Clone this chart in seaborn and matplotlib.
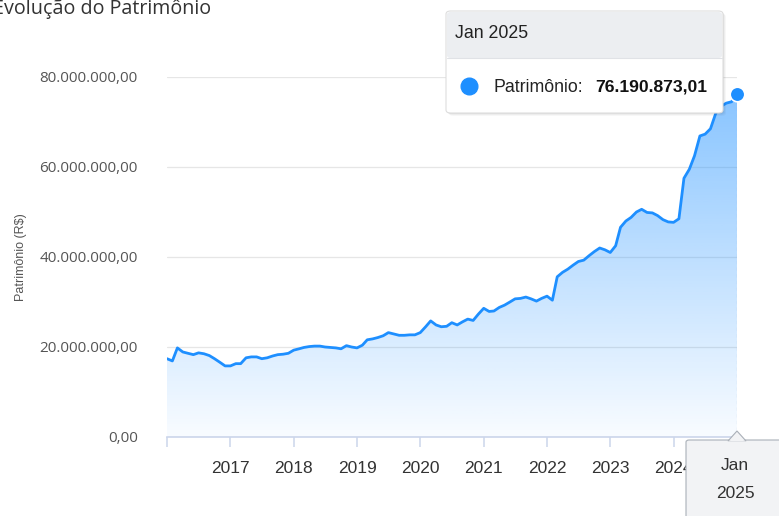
import numpy as np
import pandas as pd
import matplotlib
matplotlib.use("Agg")
import matplotlib.pyplot as plt
import matplotlib.dates as mdates
from matplotlib.patches import FancyBboxPatch, Polygon
from matplotlib.ticker import FuncFormatter
import seaborn as sns

# monthly patrimony (millions of R$), Jan 2016 .. Jan 2025
datas = pd.date_range("2016-01-01", "2025-01-01", freq="MS")
patrimonio_mi = [
    17.4, 16.9, 19.8, 18.9, 18.6, 18.3, 18.7, 18.5, 18.1, 17.4, 16.6, 15.8,
    15.8, 16.3, 16.3, 17.6, 17.8, 17.8, 17.4, 17.6, 18.0, 18.3, 18.4, 18.6,
    19.3, 19.6, 19.9, 20.1, 20.2, 20.2, 20.0, 19.9, 19.8, 19.6, 20.3, 20.0,
    19.8, 20.4, 21.6, 21.8, 22.1, 22.5, 23.2, 22.9, 22.6, 22.6, 22.7, 22.7,
    23.2, 24.5, 25.8, 24.9, 24.5, 24.6, 25.4, 24.9, 25.6, 26.2, 25.9, 27.3,
    28.6, 27.9, 28.0, 28.8, 29.3, 30.0, 30.7, 30.8, 31.1, 30.7, 30.2, 30.8,
    31.3, 30.4, 35.6, 36.6, 37.3, 38.2, 39.0, 39.3, 40.3, 41.2, 42.0, 41.6,
    41.0, 42.5, 46.6, 48.0, 48.8, 50.0, 50.6, 49.9, 49.8, 49.2, 48.3, 47.8,
    47.7, 48.5, 57.5, 59.5, 62.5, 66.9, 67.3, 68.5, 72.0, 73.5, 74.2, 74.5,
    76.190873,
]
valores = np.array(patrimonio_mi) * 1e6
anos = list(range(2017, 2025))
yticks = [0, 20e6, 40e6, 60e6, 80e6]

df = pd.DataFrame({"data": datas, "patrimonio": valores})

W, H = 779, 516
fig = plt.figure(figsize=(W / 100, H / 100), dpi=100)
sns.set_theme(style="white")
plt.rcParams["font.family"] = ["Liberation Sans", "DejaVu Sans"]


def px(x, y):
    return x / W, 1 - y / H


left, right, top, bottom = 167, 737, 77, 437
ax = fig.add_axes([left / W, 1 - bottom / H, (right - left) / W, (bottom - top) / H])

x0 = mdates.date2num(pd.Timestamp("2016-01-01"))
x1 = mdates.date2num(pd.Timestamp("2025-01-01"))
ax.set_xlim(x0, x1)
ax.set_ylim(0, 80e6)

# gradient area under the line
xs = mdates.date2num(df["data"])
poly = ax.fill_between(xs, valores, 0, color="none", lw=0)
grad = np.linspace(0.55, 0.03, 256).reshape(-1, 1)
rgba = np.zeros((256, 1, 4))
rgba[..., 0] = 30 / 255
rgba[..., 1] = 144 / 255
rgba[..., 2] = 1.0
rgba[..., 3] = grad
img = ax.imshow(rgba, extent=[x0, x1, 0, 80e6], aspect="auto", origin="upper", zorder=1)
img.set_clip_path(poly.get_paths()[0], transform=ax.transData)

sns.lineplot(data=df, x="data", y="patrimonio", ax=ax, color="#1e8fff", lw=2.0, zorder=3)

# hover marker and dashed crosshair
ax.plot([x1, x1], [0, valores[-1]], ls=(0, (3, 3)), color="#8fa8c8", lw=0.8, zorder=2)
ax.scatter([x1], [valores[-1]], s=110, color="#1e8fff", edgecolor="white", lw=1.2,
           zorder=5, clip_on=False)

ax.set_yticks(yticks)
ax.yaxis.set_major_formatter(FuncFormatter(
    lambda v, p: f"{v:,.2f}".replace(",", "X").replace(".", ",").replace("X", ".")))
ax.grid(axis="y", color="#e6e6e6", lw=0.9)
ax.set_axisbelow(True)
for s in ["top", "right", "left"]:
    ax.spines[s].set_visible(False)
ax.spines["bottom"].set_color("#ccd6eb")
ax.spines["bottom"].set_linewidth(1.2)

ax.set_xticks([x0] + [mdates.date2num(pd.Timestamp(f"{a}-01-01")) for a in anos])
ax.set_xticklabels([""] + [str(a) for a in anos])
ax.tick_params(axis="x", bottom=True, length=7, width=1.1, color="#ccd6eb",
               labelsize=12.5, labelcolor="#333333", pad=10)
ax.tick_params(axis="y", left=False, labelsize=11, labelcolor="#555555", pad=15)
for lab in ax.get_yticklabels():
    lab.set_fontfamily(["Open Sans", "DejaVu Sans"])
ax.set_xlabel("")
ax.set_ylabel("Patrimônio (R$)", fontsize=9, color="#555555", labelpad=9)

fig.text(*px(-7, 9), "Evolução do Patrimônio", fontsize=14.2, color="#333333",
         ha="left", va="center", family=["Open Sans", "DejaVu Sans"])

# tooltip at the top
for i, a in enumerate([0.05, 0.04, 0.03]):
    sh = FancyBboxPatch(px(446 + i + 1, 113 + i + 1), 277 / W, 102 / H,
                        boxstyle="round,pad=0,rounding_size=0.006", transform=fig.transFigure,
                        fc="black", ec="none", alpha=a, zorder=8)
    fig.patches.append(sh)
box = FancyBboxPatch(px(446, 113), 277 / W, 102 / H,
                     boxstyle="round,pad=0,rounding_size=0.006", transform=fig.transFigure,
                     fc="white", ec="#dddddd", lw=0.8, zorder=9)
fig.patches.append(box)
head = FancyBboxPatch(px(447, 58), 275 / W, 46 / H,
                      boxstyle="round,pad=0,rounding_size=0.005", transform=fig.transFigure,
                      fc="#eceef1", ec="none", zorder=10)
fig.patches.append(head)
fig.lines.append(plt.Line2D([447 / W, 722 / W], [1 - 58 / H] * 2, transform=fig.transFigure,
                            color="#e0e2e6", lw=0.8, zorder=11))
fig.text(*px(455, 34), "Jan 2025", fontsize=12.8, color="#222222", va="center", zorder=12)
fig.lines.append(plt.Line2D([469 / W], [1 - 86 / H], transform=fig.transFigure, marker="o",
                            markersize=12, color="#1e8fff", lw=0, zorder=12))
fig.text(*px(493, 87), "Patrimônio:", fontsize=12.8, color="#222222", va="center", zorder=12)
fig.text(*px(595, 87), "76.190.873,01", fontsize=12.6, color="#111111", va="center",
         weight="bold", zorder=12)

# x crosshair label box at the bottom
lab_box = FancyBboxPatch(px(686, 530), 110 / W, 90 / H,
                         boxstyle="round,pad=0,rounding_size=0.004", transform=fig.transFigure,
                         fc="#f2f3f5", ec="#aab0b8", lw=0.8, zorder=9)
fig.patches.append(lab_box)
tri = Polygon([px(728, 441), px(737, 431), px(746, 441)], closed=True,
              transform=fig.transFigure, fc="#f2f3f5", ec="#aab0b8", lw=0.8, zorder=9)
fig.patches.append(tri)
fig.patches.append(Polygon([px(727.5, 441.6), px(746.5, 441.6), px(737, 437)], closed=True,
                           transform=fig.transFigure, fc="#f2f3f5", ec="none", zorder=10))
fig.text(*px(735, 466), "Jan", fontsize=12.5, color="#333333", ha="center", va="center", zorder=12)
fig.text(*px(735, 493), "2025", fontsize=12.5, color="#333333", ha="center", va="center", zorder=12)

fig.savefig("out.png", dpi=100)
